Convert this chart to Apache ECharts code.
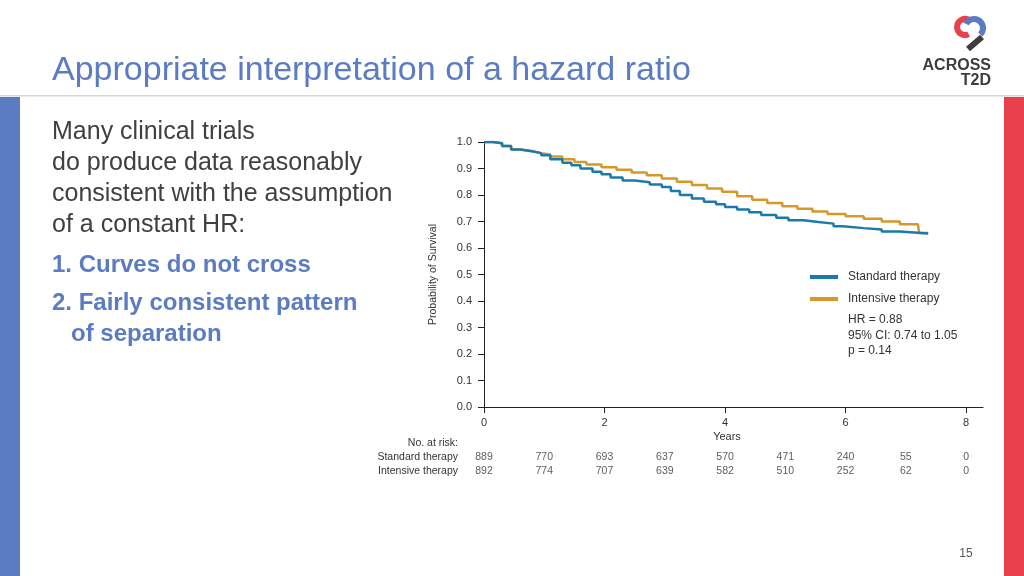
<!DOCTYPE html>
<html>
<head>
<meta charset="utf-8">
<script src="https://cdn.jsdelivr.net/npm/echarts@6/dist/echarts.min.js"></script>
<style>
  html, body { margin: 0; padding: 0; background: #fff; }
  #chart { width: 1024px; height: 576px; }
</style>
</head>
<body>
<div id="chart"></div>
<script>
// Kaplan-Meier curves: [years, probability of survival]
const standardCurve = [
  [0, 1.0], [0.15, 0.995], [0.3, 0.985], [0.45, 0.972], [0.6, 0.965], [0.8, 0.958],
  [0.95, 0.95], [1.1, 0.935], [1.3, 0.922], [1.45, 0.912], [1.6, 0.9], [1.8, 0.888],
  [1.95, 0.878], [2.1, 0.866], [2.3, 0.855], [2.5, 0.848], [2.75, 0.84], [2.95, 0.83],
  [3.1, 0.815], [3.25, 0.8], [3.45, 0.787], [3.65, 0.775], [3.85, 0.765], [4.0, 0.755],
  [4.2, 0.745], [4.4, 0.735], [4.6, 0.725], [4.85, 0.714], [5.05, 0.705], [5.3, 0.698],
  [5.55, 0.692], [5.8, 0.682], [5.95, 0.675], [6.3, 0.67], [6.6, 0.662], [6.9, 0.655],
  [7.37, 0.655]
];
const intensiveCurve = [
  [0, 1.0], [0.15, 0.995], [0.3, 0.985], [0.45, 0.972], [0.6, 0.965], [0.8, 0.958],
  [0.95, 0.953], [1.1, 0.945], [1.3, 0.935], [1.5, 0.925], [1.7, 0.915], [1.95, 0.905],
  [2.2, 0.895], [2.45, 0.885], [2.7, 0.875], [2.95, 0.862], [3.2, 0.85], [3.45, 0.838],
  [3.7, 0.825], [3.95, 0.812], [4.2, 0.795], [4.45, 0.782], [4.7, 0.77], [4.95, 0.758],
  [5.2, 0.748], [5.45, 0.738], [5.7, 0.728], [6.0, 0.72], [6.3, 0.71], [6.6, 0.7],
  [6.9, 0.69], [7.2, 0.683], [7.22, 0.657], [7.37, 0.657]
];

const xTicks = [0, 2, 4, 6, 8];
const seriesNames = ['Standard therapy', 'Intensive therapy'];
const riskYears = [0, 1, 2, 3, 4, 5, 6, 7, 8];
const standardAtRisk = [889, 770, 693, 637, 570, 471, 240, 55, 0];
const intensiveAtRisk = [892, 774, 707, 639, 582, 510, 252, 62, 0];
const statsLines = ['HR = 0.88', '95% CI: 0.74 to 1.05', 'p = 0.14'];

const BLUE = '#1a7bab';
const ORANGE = '#d5992a';
const SLIDE_BLUE = '#5b7cc2';
const FONT = '"Liberation Sans", Arial, sans-serif';

const riskData = [];
riskYears.forEach((y, i) => {
  riskData.push([y, 0, standardAtRisk[i]]);
  riskData.push([y, 1, intensiveAtRisk[i]]);
});

const chart = echarts.init(document.getElementById('chart'));

chart.setOption({
  animation: false,
  textStyle: { fontFamily: FONT },
  grid: [
    { left: 484, top: 142, width: 499, height: 265 },
    { left: 484, top: 450, width: 499, height: 28 }
  ],
  xAxis: [
    {
      type: 'value', gridIndex: 0, min: 0, max: 8.28,
      splitLine: { show: false },
      axisLine: { lineStyle: { color: '#222', width: 1 } },
      axisTick: { customValues: xTicks, length: 6, lineStyle: { color: '#222' } },
      axisLabel: { customValues: xTicks, fontSize: 11, color: '#333', margin: 10 }
    },
    { type: 'value', gridIndex: 1, min: 0, max: 8.28, show: false }
  ],
  yAxis: [
    {
      type: 'value', gridIndex: 0, min: 0, max: 1, interval: 0.1,
      name: 'Probability of Survival', nameLocation: 'middle', nameGap: 45,
      nameTextStyle: { fontSize: 10.5, color: '#333' },
      splitLine: { show: false },
      axisLine: { show: true, lineStyle: { color: '#222', width: 1 } },
      axisTick: { show: true, length: 6, lineStyle: { color: '#222' } },
      axisLabel: { fontSize: 11, color: '#333', margin: 12, formatter: v => v.toFixed(1) }
    },
    {
      type: 'category', gridIndex: 1, inverse: true, data: seriesNames,
      axisLine: { show: false }, axisTick: { show: false },
      axisLabel: { interval: 0, hideOverlap: false, fontSize: 10.5, color: '#333', margin: 26 }
    }
  ],
  legend: {
    data: seriesNames,
    orient: 'vertical', left: 810, top: 270,
    icon: 'rect', itemWidth: 28, itemHeight: 4, itemGap: 8,
    padding: 0,
    textStyle: { fontSize: 12, color: '#333', padding: [0, 0, 0, 5], lineHeight: 14 }
  },
  series: [
    {
      name: 'Intensive therapy', type: 'line', step: 'end',
      xAxisIndex: 0, yAxisIndex: 0,
      showSymbol: false, data: intensiveCurve,
      itemStyle: { color: ORANGE },
      lineStyle: { color: ORANGE, width: 2.5 }
    },
    {
      name: 'Standard therapy', type: 'line', step: 'end',
      xAxisIndex: 0, yAxisIndex: 0,
      showSymbol: false, data: standardCurve,
      itemStyle: { color: BLUE },
      lineStyle: { color: BLUE, width: 2.5 }
    },
    {
      type: 'scatter', xAxisIndex: 1, yAxisIndex: 1,
      symbolSize: 1, itemStyle: { color: 'rgba(0,0,0,0)' },
      data: riskData,
      label: {
        show: true, position: 'inside', fontSize: 10.5, color: '#333',
        formatter: p => p.value[2]
      }
    }
  ],
  graphic: [
    // slide chrome
    { type: 'rect', shape: { x: 0, y: 95, width: 1024, height: 1.5 }, style: { fill: '#d6d6d6' }, silent: true },
    { type: 'rect', shape: { x: 0, y: 97, width: 20, height: 479 }, style: { fill: SLIDE_BLUE } },
    { type: 'rect', shape: { x: 1004, y: 97, width: 20, height: 479 }, style: { fill: '#e9404b' } },
    {
      type: 'text', left: 52, top: 54,
      style: { text: 'Appropriate interpretation of a hazard ratio', font: '34px ' + FONT, fill: SLIDE_BLUE }
    },
    {
      type: 'text', left: 52, top: 117,
      style: {
        text: 'Many clinical trials\ndo produce data reasonably\nconsistent with the assumption\nof a constant HR:',
        font: '25px ' + FONT, lineHeight: 31, fill: '#404040'
      }
    },
    {
      type: 'text', left: 52, top: 253,
      style: { text: '1. Curves do not cross', font: 'bold 24px ' + FONT, fill: SLIDE_BLUE }
    },
    {
      type: 'text', left: 52, top: 291,
      style: { text: '2. Fairly consistent pattern', font: 'bold 24px ' + FONT, fill: SLIDE_BLUE }
    },
    {
      type: 'text', left: 71, top: 322,
      style: { text: 'of separation', font: 'bold 24px ' + FONT, fill: SLIDE_BLUE }
    },
    // chart annotations
    {
      type: 'text', x: 727, y: 437,
      style: { text: 'Years', font: '11px ' + FONT, fill: '#333', align: 'center', verticalAlign: 'middle' }
    },
    {
      type: 'text', x: 458, y: 443,
      style: { text: 'No. at risk:', font: '10.5px ' + FONT, fill: '#333', align: 'right', verticalAlign: 'middle' }
    },
    {
      type: 'text', x: 848, y: 312,
      style: { text: statsLines.join('\n'), font: '12px ' + FONT, lineHeight: 15.5, fill: '#333' }
    },
    {
      type: 'text', x: 966, y: 554,
      style: { text: '15', font: '12px ' + FONT, fill: '#555', align: 'center', verticalAlign: 'middle' }
    },
    // logo
    {
      type: 'arc', shape: { cx: 965, cy: 27, r: 8, startAngle: Math.PI * 0.35, endAngle: Math.PI * 1.75 },
      style: { stroke: '#e9404b', lineWidth: 6, fill: null }
    },
    {
      type: 'arc', shape: { cx: 974, cy: 28, r: 9, startAngle: Math.PI * 1.15, endAngle: Math.PI * 0.25 },
      style: { stroke: '#5b7cc2', lineWidth: 6, fill: null }
    },
    {
      type: 'line', shape: { x1: 968, y1: 49, x2: 982, y2: 37 },
      style: { stroke: '#3d3d3d', lineWidth: 6 }
    },
    {
      type: 'text', x: 991, y: 66,
      style: { text: 'ACROSS', font: 'bold 16px ' + FONT, fill: '#3d3d3d', align: 'right', verticalAlign: 'middle' }
    },
    {
      type: 'text', x: 991, y: 81,
      style: { text: 'T2D', font: 'bold 16px ' + FONT, fill: '#3d3d3d', align: 'right', verticalAlign: 'middle' }
    }
  ]
});
</script>
</body>
</html>
